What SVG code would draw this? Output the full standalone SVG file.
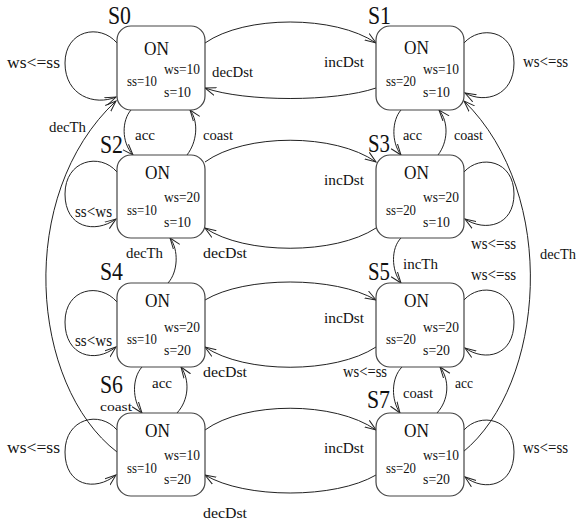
<svg xmlns="http://www.w3.org/2000/svg" width="576" height="523" viewBox="0 0 576 523">
<style>
text{font-family:"Liberation Serif","Times New Roman",serif;fill:#111;}
.box{fill:#fff;stroke:#444;stroke-width:1.2;}
.on{font-size:19px;}
.v{font-size:15px;}
.st{font-size:25px;}
.lb{font-size:15px;}
.lb2{font-size:16px;}
.sm{font-size:13px;}
.c{fill:none;stroke:#222;stroke-width:1;marker-end:url(#ah);}
</style>
<defs>
<marker id="ah" markerUnits="userSpaceOnUse" markerWidth="12" markerHeight="10" viewBox="0 0 12 10" refX="11" refY="5" orient="auto">
<path d="M0,1 L11,5 L0,9" fill="none" stroke="#222" stroke-width="1"/>
</marker>
</defs>
<rect width="576" height="523" fill="#fff"/>

<g id="connectors">
<path class="c" d="M205,43 C245,15 335,15 376,43"/>
<path class="c" d="M376,88 C335,102 245,102 205,88"/>
<path class="c" d="M205,162 C245,133 335,133 376,162"/>
<path class="c" d="M376,228 C335,255 245,255 205,228"/>
<path class="c" d="M205,300 C245,276 335,276 376,300"/>
<path class="c" d="M376,347 C335,374 245,374 205,347"/>
<path class="c" d="M205,430 C245,401 335,401 376,430"/>
<path class="c" d="M376,475 C335,499 245,499 205,475"/>
<path class="c" d="M117,43 C100,23 65,30 65,63 C65,96 95,106 116,97"/>
<path class="c" d="M117,172 C100,152 65,160 65,194 C65,228 95,234 116,219"/>
<path class="c" d="M117,302 C100,282 65,288 65,322 C65,356 95,364 116,347"/>
<path class="c" d="M117,430 C100,410 65,418 65,452 C65,486 95,492 116,475"/>
<path class="c" d="M464,43 C480,25 514,30 514,63 C514,96 485,104 465,93"/>
<path class="c" d="M464,172 C480,154 514,160 514,194 C514,226 485,232 465,219"/>
<path class="c" d="M464,300 C480,282 514,288 514,322 C514,356 485,362 465,348"/>
<path class="c" d="M464,430 C480,412 514,418 514,452 C514,486 485,492 465,477"/>
<path class="c" d="M131,110 C122,120 121,142 133,155"/>
<path class="c" d="M187,155 C197,142 199,122 190,110"/>
<path class="c" d="M401,110 C392,120 391,142 401,155"/>
<path class="c" d="M438,155 C448,142 449,122 439,110"/>
<path class="c" d="M168,283 C178,272 179,250 170,238"/>
<path class="c" d="M401,238 C391,248 391,270 401,283"/>
<path class="c" d="M142,367 C132,378 132,400 142,413"/>
<path class="c" d="M177,413 C189,400 190,380 181,367"/>
<path class="c" d="M402,367 C391,378 391,400 400,413"/>
<path class="c" d="M437,413 C449,400 450,380 440,367"/>
<path class="c" d="M117,452 C30,385 15,195 116,101"/>
<path class="c" d="M463,452 C545,385 560,195 464,101"/>

<g id="labels">
<text class="lb2" x="7" y="68" textLength="53" lengthAdjust="spacingAndGlyphs">ws&lt;=ss</text>
<text class="lb" x="212" y="77" textLength="41" lengthAdjust="spacingAndGlyphs">decDst</text>
<text class="lb" x="324" y="67" textLength="40" lengthAdjust="spacingAndGlyphs">incDst</text>
<text class="lb2" x="523" y="67" textLength="45" lengthAdjust="spacingAndGlyphs">ws&lt;=ss</text>
<text class="lb" x="49" y="132" textLength="37" lengthAdjust="spacingAndGlyphs">decTh</text>
<text class="lb" x="135" y="140" textLength="20" lengthAdjust="spacingAndGlyphs">acc</text>
<text class="lb" x="203" y="140" textLength="30" lengthAdjust="spacingAndGlyphs">coast</text>
<text class="lb" x="403" y="140" textLength="19" lengthAdjust="spacingAndGlyphs">acc</text>
<text class="lb" x="454" y="140" textLength="29" lengthAdjust="spacingAndGlyphs">coast</text>
<text class="lb2" x="75" y="217" textLength="37" lengthAdjust="spacingAndGlyphs">ss&lt;ws</text>
<text class="lb" x="324" y="185" textLength="40" lengthAdjust="spacingAndGlyphs">incDst</text>
<text class="lb" x="203" y="258" textLength="44" lengthAdjust="spacingAndGlyphs">decDst</text>
<text class="lb" x="126" y="258" textLength="37" lengthAdjust="spacingAndGlyphs">decTh</text>
<text class="lb2" x="471" y="249" textLength="45" lengthAdjust="spacingAndGlyphs">ws&lt;=ss</text>
<text class="lb" x="403" y="269" textLength="35" lengthAdjust="spacingAndGlyphs">incTh</text>
<text class="lb" x="540" y="259" textLength="36" lengthAdjust="spacingAndGlyphs">decTh</text>
<text class="lb2" x="75" y="346" textLength="37" lengthAdjust="spacingAndGlyphs">ss&lt;ws</text>
<text class="lb" x="324" y="323" textLength="40" lengthAdjust="spacingAndGlyphs">incDst</text>
<text class="lb" x="203" y="377" textLength="44" lengthAdjust="spacingAndGlyphs">decDst</text>
<text class="lb2" x="471" y="280" textLength="45" lengthAdjust="spacingAndGlyphs">ws&lt;=ss</text>
<text class="lb" x="152" y="388" textLength="20" lengthAdjust="spacingAndGlyphs">acc</text>
<text class="sm" x="100" y="411" textLength="32" lengthAdjust="spacingAndGlyphs">coast</text>
<text class="lb2" x="343" y="377" textLength="44" lengthAdjust="spacingAndGlyphs">ws&lt;=ss</text>
<text class="lb" x="455" y="388" textLength="18" lengthAdjust="spacingAndGlyphs">acc</text>
<text class="lb" x="403" y="398" textLength="30" lengthAdjust="spacingAndGlyphs">coast</text>
<text class="lb2" x="7" y="453" textLength="53" lengthAdjust="spacingAndGlyphs">ws&lt;=ss</text>
<text class="lb" x="324" y="453" textLength="40" lengthAdjust="spacingAndGlyphs">incDst</text>
<text class="lb" x="203" y="518" textLength="44" lengthAdjust="spacingAndGlyphs">decDst</text>
<text class="lb2" x="523" y="453" textLength="45" lengthAdjust="spacingAndGlyphs">ws&lt;=ss</text>
</g>
</g>

<g id="S0" transform="translate(117,26)">
<rect class="box" width="88" height="84" rx="14"/>
<text class="st" x="-9" y="-2" textLength="23" lengthAdjust="spacingAndGlyphs">S0</text>
<text class="on" x="27" y="29" textLength="25" lengthAdjust="spacingAndGlyphs">ON</text>
<text class="v" x="47" y="48" textLength="36" lengthAdjust="spacingAndGlyphs">ws=10</text>
<text class="v" x="10" y="60" textLength="30" lengthAdjust="spacingAndGlyphs">ss=10</text>
<text class="v" x="47" y="71" textLength="27" lengthAdjust="spacingAndGlyphs">s=10</text>
</g>
<g id="S1" transform="translate(376,26)">
<rect class="box" width="88" height="84" rx="14"/>
<text class="st" x="-8" y="-2" textLength="23" lengthAdjust="spacingAndGlyphs">S1</text>
<text class="on" x="28" y="28" textLength="25" lengthAdjust="spacingAndGlyphs">ON</text>
<text class="v" x="47" y="48" textLength="36" lengthAdjust="spacingAndGlyphs">ws=10</text>
<text class="v" x="10" y="60" textLength="30" lengthAdjust="spacingAndGlyphs">ss=20</text>
<text class="v" x="47" y="71" textLength="27" lengthAdjust="spacingAndGlyphs">s=10</text>
</g>
<g id="S2" transform="translate(117,155)">
<rect class="box" width="88" height="83" rx="14"/>
<text class="st" x="-17" y="-2" textLength="23" lengthAdjust="spacingAndGlyphs">S2</text>
<text class="on" x="28" y="24" textLength="25" lengthAdjust="spacingAndGlyphs">ON</text>
<text class="v" x="47" y="47" textLength="36" lengthAdjust="spacingAndGlyphs">ws=20</text>
<text class="v" x="10" y="60" textLength="30" lengthAdjust="spacingAndGlyphs">ss=10</text>
<text class="v" x="47" y="72" textLength="27" lengthAdjust="spacingAndGlyphs">s=10</text>
</g>
<g id="S3" transform="translate(376,155)">
<rect class="box" width="88" height="83" rx="14"/>
<text class="st" x="-8" y="-3" textLength="22" lengthAdjust="spacingAndGlyphs">S3</text>
<text class="on" x="28" y="24" textLength="25" lengthAdjust="spacingAndGlyphs">ON</text>
<text class="v" x="47" y="47" textLength="36" lengthAdjust="spacingAndGlyphs">ws=20</text>
<text class="v" x="10" y="60" textLength="30" lengthAdjust="spacingAndGlyphs">ss=20</text>
<text class="v" x="47" y="72" textLength="27" lengthAdjust="spacingAndGlyphs">s=10</text>
</g>
<g id="S4" transform="translate(117,283)">
<rect class="box" width="88" height="84" rx="14"/>
<text class="st" x="-17" y="-3" textLength="23" lengthAdjust="spacingAndGlyphs">S4</text>
<text class="on" x="28" y="24" textLength="25" lengthAdjust="spacingAndGlyphs">ON</text>
<text class="v" x="47" y="49" textLength="36" lengthAdjust="spacingAndGlyphs">ws=20</text>
<text class="v" x="10" y="61" textLength="30" lengthAdjust="spacingAndGlyphs">ss=10</text>
<text class="v" x="47" y="72" textLength="27" lengthAdjust="spacingAndGlyphs">s=20</text>
</g>
<g id="S5" transform="translate(376,283)">
<rect class="box" width="88" height="84" rx="14"/>
<text class="st" x="-8" y="-3" textLength="22" lengthAdjust="spacingAndGlyphs">S5</text>
<text class="on" x="28" y="24" textLength="25" lengthAdjust="spacingAndGlyphs">ON</text>
<text class="v" x="47" y="49" textLength="36" lengthAdjust="spacingAndGlyphs">ws=20</text>
<text class="v" x="10" y="61" textLength="30" lengthAdjust="spacingAndGlyphs">ss=20</text>
<text class="v" x="47" y="72" textLength="27" lengthAdjust="spacingAndGlyphs">s=20</text>
</g>
<g id="S6" transform="translate(117,413)">
<rect class="box" width="88" height="83" rx="14"/>
<text class="st" x="-17" y="-20" textLength="23" lengthAdjust="spacingAndGlyphs">S6</text>
<text class="on" x="28" y="24" textLength="25" lengthAdjust="spacingAndGlyphs">ON</text>
<text class="v" x="47" y="47" textLength="36" lengthAdjust="spacingAndGlyphs">ws=10</text>
<text class="v" x="10" y="60" textLength="30" lengthAdjust="spacingAndGlyphs">ss=10</text>
<text class="v" x="47" y="71" textLength="27" lengthAdjust="spacingAndGlyphs">s=20</text>
</g>
<g id="S7" transform="translate(376,413)">
<rect class="box" width="88" height="83" rx="14"/>
<text class="st" x="-9" y="-5" textLength="23" lengthAdjust="spacingAndGlyphs">S7</text>
<text class="on" x="28" y="24" textLength="25" lengthAdjust="spacingAndGlyphs">ON</text>
<text class="v" x="47" y="47" textLength="36" lengthAdjust="spacingAndGlyphs">ws=10</text>
<text class="v" x="10" y="60" textLength="30" lengthAdjust="spacingAndGlyphs">ss=20</text>
<text class="v" x="47" y="71" textLength="27" lengthAdjust="spacingAndGlyphs">s=20</text>
</g>
</svg>
